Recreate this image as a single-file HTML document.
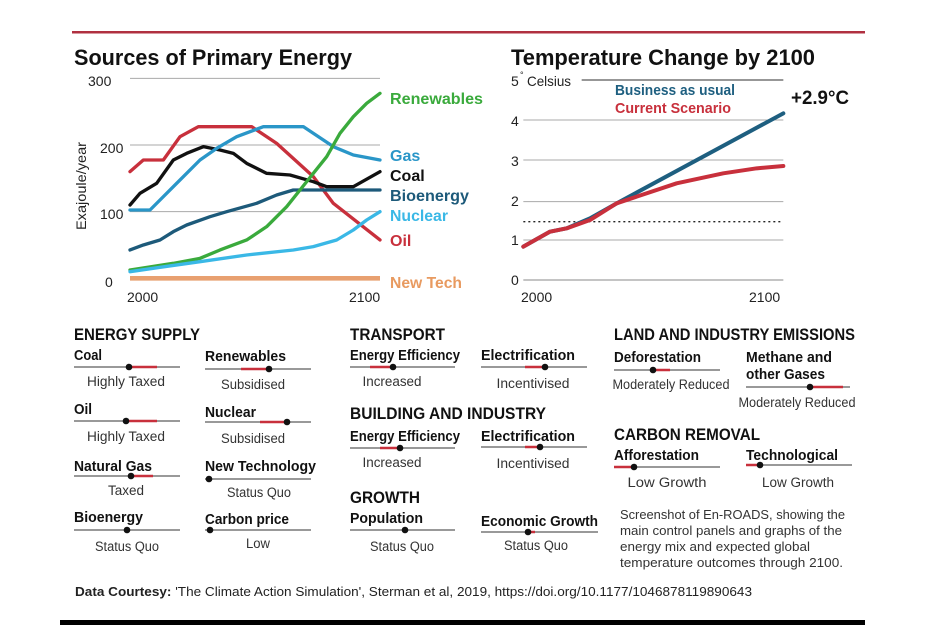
<!DOCTYPE html>
<html><head><meta charset="utf-8"><style>
html,body{margin:0;padding:0;background:#fff;}
svg{display:block;font-family:"Liberation Sans",sans-serif;}
.b{font-weight:bold;}
</style></head><body>
<svg width="937" height="625" viewBox="0 0 937 625" xmlns="http://www.w3.org/2000/svg">
<rect width="937" height="625" fill="#fff"/>
<rect x="72" y="31" width="793" height="2.5" fill="#b03040"/>
<rect x="60" y="620" width="805" height="5" fill="#000"/>

<text x="74" y="65" class="b" font-size="22" fill="#111" textLength="278" lengthAdjust="spacingAndGlyphs">Sources of Primary Energy</text>
<g transform="translate(60,30) scale(0.33333)">
 <g stroke="#aaa" stroke-width="3">
  <line x1="210" y1="145" x2="960" y2="145"/>
  <line x1="210" y1="345" x2="960" y2="345"/>
  <line x1="210" y1="545" x2="960" y2="545"/>
 </g>
 <g fill="none" stroke-width="10" stroke-linejoin="round" stroke-linecap="round">
  <line x1="210" y1="745" x2="960" y2="745" stroke="#e8a070" stroke-width="14" stroke-linecap="butt"/>
  <polyline stroke="#c8303c" points="210,425 250,390 310,390 360,320 415,290 575,290 650,340 760,440 820,520 960,630"/>
  <polyline stroke="#111" points="210,525 240,490 290,460 340,390 380,370 430,350 480,360 520,370 560,400 620,430 690,435 760,455 800,470 880,470 960,425"/>
  <polyline stroke="#2a96c8" points="210,540 270,540 300,510 350,460 420,390 470,355 530,320 610,290 730,290 820,350 880,375 960,390"/>
  <polyline stroke="#1d5a7a" points="210,660 250,645 300,630 340,605 380,585 450,560 500,545 590,520 650,495 700,480 960,480"/>
  <polyline stroke="#3aaa3c" points="210,720 340,700 420,685 480,660 560,630 620,590 680,530 720,480 760,430 800,380 840,310 880,260 920,220 960,190"/>
  <polyline stroke="#3ab8e6" points="210,725 300,712 420,695 560,675 700,660 760,650 830,630 880,600 920,570 960,545"/>
 </g>
</g>
<g font-size="14" fill="#222">
 <text x="88" y="86">300</text>
 <text x="100" y="153">200</text>
 <text x="100" y="219">100</text>
 <text x="105" y="287">0</text>
 <text x="127" y="302">2000</text>
 <text x="349" y="302">2100</text>
 <text transform="translate(86,230) rotate(-90)" font-size="14" textLength="88" lengthAdjust="spacingAndGlyphs">Exajoule/year</text>
</g>
<g class="b" font-size="16">
 <text x="390" y="104" fill="#3aaa3c" textLength="93" lengthAdjust="spacingAndGlyphs">Renewables</text>
 <text x="390" y="161" fill="#2a96c8">Gas</text>
 <text x="390" y="181" fill="#111">Coal</text>
 <text x="390" y="201" fill="#1d5a7a" textLength="79" lengthAdjust="spacingAndGlyphs">Bioenergy</text>
 <text x="390" y="221" fill="#3ab8e6" textLength="58" lengthAdjust="spacingAndGlyphs">Nuclear</text>
 <text x="390" y="246" fill="#c8303c">Oil</text>
 <text x="390" y="288" fill="#e89a60" textLength="72" lengthAdjust="spacingAndGlyphs">New Tech</text>
</g>

<text x="511" y="65" class="b" font-size="22" fill="#111" textLength="304" lengthAdjust="spacingAndGlyphs">Temperature Change by 2100</text>
<g transform="translate(490,30) scale(0.33333)">
 <g stroke="#aaa" stroke-width="3">
  <line x1="275" y1="150" x2="880" y2="150" stroke="#888" stroke-width="5"/>
  <line x1="100" y1="270" x2="880" y2="270"/>
  <line x1="100" y1="390" x2="880" y2="390"/>
  <line x1="100" y1="515" x2="880" y2="515"/>
  <line x1="100" y1="630" x2="880" y2="630"/>
  <line x1="100" y1="750" x2="880" y2="750" stroke="#888"/>
  <line x1="100" y1="575" x2="880" y2="575" stroke="#222" stroke-width="4" stroke-dasharray="6,9"/>
 </g>
 <g fill="none" stroke-width="12" stroke-linejoin="round" stroke-linecap="round">
  <polyline stroke="#1e5f80" points="100,650 180,605 230,595 300,565 380,520 880,250"/>
  <polyline stroke="#c8303c" points="100,650 180,605 230,595 300,570 340,545 380,520 440,500 560,460 700,430 800,415 880,408"/>
 </g>
</g>
<g font-size="14" fill="#222">
 <text x="511" y="86">5</text>
 <text x="520" y="78" font-size="9">°</text>
 <text x="527" y="86" textLength="44" lengthAdjust="spacingAndGlyphs">Celsius</text>
 <text x="511" y="126">4</text>
 <text x="511" y="166">3</text>
 <text x="511" y="206">2</text>
 <text x="511" y="245">1</text>
 <text x="511" y="285">0</text>
 <text x="521" y="302">2000</text>
 <text x="749" y="302">2100</text>
</g>
<text x="615" y="95" class="b" font-size="15" fill="#1e5f80" textLength="120" lengthAdjust="spacingAndGlyphs">Business as usual</text>
<text x="615" y="113" class="b" font-size="15" fill="#c8303c" textLength="116" lengthAdjust="spacingAndGlyphs">Current Scenario</text>
<text x="791" y="104" class="b" font-size="19" fill="#111" textLength="58" lengthAdjust="spacingAndGlyphs">+2.9°C</text>

<g class="b" font-size="17" fill="#111" lengthAdjust="spacingAndGlyphs">
 <text x="74" y="340" textLength="126" lengthAdjust="spacingAndGlyphs">ENERGY SUPPLY</text>
 <text x="350" y="340" textLength="95" lengthAdjust="spacingAndGlyphs">TRANSPORT</text>
 <text x="350" y="419" textLength="196" lengthAdjust="spacingAndGlyphs">BUILDING AND INDUSTRY</text>
 <text x="350" y="503" textLength="70" lengthAdjust="spacingAndGlyphs">GROWTH</text>
 <text x="614" y="340" textLength="241" lengthAdjust="spacingAndGlyphs">LAND AND INDUSTRY EMISSIONS</text>
 <text x="614" y="440" textLength="146" lengthAdjust="spacingAndGlyphs">CARBON REMOVAL</text>
</g>
<g class="b" font-size="14.5" fill="#111">
 <text x="74" y="360" textLength="28" lengthAdjust="spacingAndGlyphs">Coal</text>
 <text x="74" y="414" textLength="18" lengthAdjust="spacingAndGlyphs">Oil</text>
 <text x="74" y="471" textLength="78" lengthAdjust="spacingAndGlyphs">Natural Gas</text>
 <text x="74" y="522" textLength="69" lengthAdjust="spacingAndGlyphs">Bioenergy</text>
 <text x="205" y="361" textLength="81" lengthAdjust="spacingAndGlyphs">Renewables</text>
 <text x="205" y="417" textLength="51" lengthAdjust="spacingAndGlyphs">Nuclear</text>
 <text x="205" y="471" textLength="111" lengthAdjust="spacingAndGlyphs">New Technology</text>
 <text x="205" y="524" textLength="84" lengthAdjust="spacingAndGlyphs">Carbon price</text>
 <text x="350" y="360" textLength="110" lengthAdjust="spacingAndGlyphs">Energy Efficiency</text>
 <text x="350" y="441" textLength="110" lengthAdjust="spacingAndGlyphs">Energy Efficiency</text>
 <text x="350" y="523" textLength="73" lengthAdjust="spacingAndGlyphs">Population</text>
 <text x="481" y="360" textLength="94" lengthAdjust="spacingAndGlyphs">Electrification</text>
 <text x="481" y="441" textLength="94" lengthAdjust="spacingAndGlyphs">Electrification</text>
 <text x="481" y="526" textLength="117" lengthAdjust="spacingAndGlyphs">Economic Growth</text>
 <text x="614" y="362" textLength="87" lengthAdjust="spacingAndGlyphs">Deforestation</text>
 <text x="746" y="362" textLength="86" lengthAdjust="spacingAndGlyphs">Methane and</text>
 <text x="746" y="379" textLength="79" lengthAdjust="spacingAndGlyphs">other Gases</text>
 <text x="614" y="460" textLength="85" lengthAdjust="spacingAndGlyphs">Afforestation</text>
 <text x="746" y="460" textLength="92" lengthAdjust="spacingAndGlyphs">Technological</text>
</g>
<g stroke="#999" stroke-width="2">
 <line x1="74" y1="367" x2="180" y2="367"/>
 <line x1="74" y1="421" x2="180" y2="421"/>
 <line x1="74" y1="476" x2="180" y2="476"/>
 <line x1="74" y1="530" x2="180" y2="530"/>
 <line x1="205" y1="369" x2="311" y2="369"/>
 <line x1="205" y1="422" x2="311" y2="422"/>
 <line x1="205" y1="479" x2="311" y2="479"/>
 <line x1="205" y1="530" x2="311" y2="530"/>
 <line x1="350" y1="367" x2="455" y2="367"/>
 <line x1="350" y1="448" x2="455" y2="448"/>
 <line x1="350" y1="530" x2="455" y2="530"/>
 <line x1="481" y1="367" x2="587" y2="367"/>
 <line x1="481" y1="447" x2="587" y2="447"/>
 <line x1="481" y1="532" x2="598" y2="532"/>
 <line x1="614" y1="370" x2="720" y2="370"/>
 <line x1="746" y1="387" x2="850" y2="387"/>
 <line x1="614" y1="467" x2="720" y2="467"/>
 <line x1="746" y1="465" x2="852" y2="465"/>
</g>
<g stroke="#c8303c" stroke-width="2.5">
 <line x1="129" y1="367" x2="157" y2="367"/>
 <line x1="126" y1="421" x2="157" y2="421"/>
 <line x1="131" y1="476" x2="153" y2="476"/>
 <line x1="241" y1="369" x2="269" y2="369"/>
 <line x1="260" y1="422" x2="287" y2="422"/>
 <line x1="370" y1="367" x2="393" y2="367"/>
 <line x1="380" y1="448" x2="400" y2="448"/>
 <line x1="525" y1="367" x2="545" y2="367"/>
 <line x1="525" y1="447" x2="540" y2="447"/>
 <line x1="528" y1="532" x2="535" y2="532"/>
 <line x1="653" y1="370" x2="670" y2="370"/>
 <line x1="810" y1="387" x2="843" y2="387"/>
 <line x1="614" y1="467" x2="634" y2="467"/>
 <line x1="746" y1="465" x2="760" y2="465"/>
</g>
<g fill="#111">
 <circle cx="129" cy="367" r="3.3"/><circle cx="126" cy="421" r="3.3"/><circle cx="131" cy="476" r="3.3"/><circle cx="127" cy="530" r="3.3"/>
 <circle cx="269" cy="369" r="3.3"/><circle cx="287" cy="422" r="3.3"/><circle cx="209" cy="479" r="3.3"/><circle cx="210" cy="530" r="3.3"/>
 <circle cx="393" cy="367" r="3.3"/><circle cx="400" cy="448" r="3.3"/><circle cx="405" cy="530" r="3.3"/>
 <circle cx="545" cy="367" r="3.3"/><circle cx="540" cy="447" r="3.3"/><circle cx="528" cy="532" r="3.3"/>
 <circle cx="653" cy="370" r="3.3"/><circle cx="810" cy="387" r="3.3"/><circle cx="634" cy="467" r="3.3"/><circle cx="760" cy="465" r="3.3"/>
</g>
<g font-size="13.5" fill="#333" text-anchor="middle">
 <text x="126" y="386" textLength="78" lengthAdjust="spacingAndGlyphs">Highly Taxed</text>
 <text x="126" y="441" textLength="78" lengthAdjust="spacingAndGlyphs">Highly Taxed</text>
 <text x="126" y="495" textLength="36" lengthAdjust="spacingAndGlyphs">Taxed</text>
 <text x="127" y="551" textLength="64" lengthAdjust="spacingAndGlyphs">Status Quo</text>
 <text x="253" y="389" textLength="64" lengthAdjust="spacingAndGlyphs">Subsidised</text>
 <text x="253" y="443" textLength="64" lengthAdjust="spacingAndGlyphs">Subsidised</text>
 <text x="259" y="497" textLength="64" lengthAdjust="spacingAndGlyphs">Status Quo</text>
 <text x="258" y="548" textLength="24" lengthAdjust="spacingAndGlyphs">Low</text>
 <text x="392" y="386" textLength="59" lengthAdjust="spacingAndGlyphs">Increased</text>
 <text x="392" y="467" textLength="59" lengthAdjust="spacingAndGlyphs">Increased</text>
 <text x="402" y="551" textLength="64" lengthAdjust="spacingAndGlyphs">Status Quo</text>
 <text x="533" y="388" textLength="73" lengthAdjust="spacingAndGlyphs">Incentivised</text>
 <text x="533" y="468" textLength="73" lengthAdjust="spacingAndGlyphs">Incentivised</text>
 <text x="536" y="550" textLength="64" lengthAdjust="spacingAndGlyphs">Status Quo</text>
 <text x="671" y="389" textLength="117" lengthAdjust="spacingAndGlyphs">Moderately Reduced</text>
 <text x="797" y="407" textLength="117" lengthAdjust="spacingAndGlyphs">Moderately Reduced</text>
 <text x="667" y="487" textLength="79" lengthAdjust="spacingAndGlyphs">Low Growth</text>
 <text x="798" y="487" textLength="72" lengthAdjust="spacingAndGlyphs">Low Growth</text>
</g>
<g font-size="12.5" fill="#333">
 <text x="620" y="519" textLength="225" lengthAdjust="spacingAndGlyphs">Screenshot of En-ROADS, showing the</text>
 <text x="620" y="535" textLength="222" lengthAdjust="spacingAndGlyphs">main control panels and graphs of the</text>
 <text x="620" y="551" textLength="190" lengthAdjust="spacingAndGlyphs">energy mix and expected global</text>
 <text x="620" y="567" textLength="223" lengthAdjust="spacingAndGlyphs">temperature outcomes through 2100.</text>
</g>
<text x="75" y="596" font-size="12.5" fill="#222" textLength="677" lengthAdjust="spacingAndGlyphs"><tspan class="b">Data Courtesy:</tspan> 'The Climate Action Simulation', Sterman et al, 2019, https://doi.org/10.1177/1046878119890643</text>
</svg>
</body></html>
